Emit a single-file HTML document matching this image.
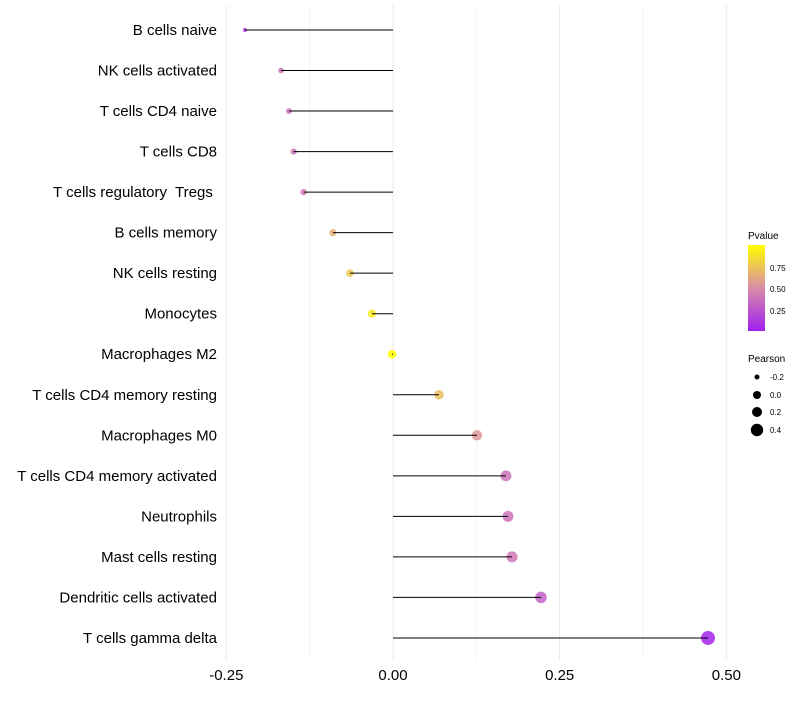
<!DOCTYPE html>
<html><head><meta charset="utf-8"><style>
body{margin:0;background:#fff;font-family:"Liberation Sans",sans-serif}
</style></head><body>
<svg id="chart" width="800" height="700" xmlns="http://www.w3.org/2000/svg">
<defs><linearGradient id="pg" x1="0" y1="1" x2="0" y2="0">
<stop offset="0" stop-color="#A020F0"/><stop offset="0.5" stop-color="#D98CA8"/><stop offset="1" stop-color="#FFFF00"/></linearGradient></defs>
<g id="grid"></g>
<g id="marks"></g>
<g id="ylabels"></g>
<g id="xlabels"></g>
<g>
<text x="748" y="239" font-size="10">Pvalue</text>
<rect x="748" y="245" width="17" height="86" fill="url(#pg)"/>
<text x="770" y="271" font-size="8">0.75</text>
<text x="770" y="292" font-size="8">0.50</text>
<text x="770" y="314" font-size="8">0.25</text>
</g>
<g>
<text x="748" y="362" font-size="10">Pearson</text>
<circle cx="757" cy="377" r="2.5"/><text x="770" y="380" font-size="8">-0.2</text>
<circle cx="757" cy="395" r="4"/><text x="770" y="398" font-size="8">0.0</text>
<circle cx="757" cy="412" r="5"/><text x="770" y="415" font-size="8">0.2</text>
<circle cx="757" cy="430" r="6.2"/><text x="770" y="433" font-size="8">0.4</text>
</g>
</svg>
<script>
const categories=["B cells naive","NK cells activated","T cells CD4 naive","T cells CD8","T cells regulatory\u00a0 Tregs\u00a0","B cells memory","NK cells resting","Monocytes","Macrophages M2","T cells CD4 memory resting","Macrophages M0","T cells CD4 memory activated","Neutrophils","Mast cells resting","Dendritic cells activated","T cells gamma delta"];
const pearson=[-0.222,-0.168,-0.156,-0.149,-0.134,-0.090,-0.0645,-0.0315,-0.0015,0.069,0.126,0.1695,0.1725,0.1785,0.222,0.4725];
const pvalues=[0.15,0.4,0.4,0.4,0.42,0.65,0.75,0.9,1.0,0.72,0.55,0.38,0.38,0.4,0.3,0.02];
const xTicks=[-0.25,0,0.25,0.5];
const xTickLabels=["-0.25","0.00","0.25","0.50"];
const NS="http://www.w3.org/2000/svg";
const xs=v=>393+v*666.7;
const ys=i=>30+i*40.53;
function col(p){const a=[160,32,240],b=[217,140,168],c=[255,255,0];let s,e,t;if(p<0.5){s=a;e=b;t=p/0.5}else{s=b;e=c;t=(p-0.5)/0.5}return `rgb(${s.map((v,k)=>Math.round(v+(e[k]-v)*t)).join(',')})`}
function mk(tag,attrs,parent){const el=document.createElementNS(NS,tag);for(const k in attrs)el.setAttribute(k,attrs[k]);document.getElementById(parent).appendChild(el);return el}
for(let v=-0.25;v<=0.5001;v+=0.125){const g=mk('line',{x1:xs(v),x2:xs(v),y1:5,y2:660,stroke:v%0.25===0?'#ebebeb':'#f3f3f3','stroke-width':1},'grid');

}
xTicks.forEach((v,i)=>{const t=mk('text',{x:xs(v),y:680,'font-size':15,'text-anchor':'middle'},'xlabels');t.textContent=xTickLabels[i];

});
categories.forEach((c,i)=>{const y=ys(i);
const t=mk('text',{x:217,y:y+5,'font-size':15,'text-anchor':'end'},'ylabels');t.textContent=c;


const r=Math.sqrt(Math.max(3,18.9+63.7*pearson[i]));
const d=mk('circle',{cx:xs(pearson[i]),cy:y,r:r,fill:col(pvalues[i]),'fill-opacity':0.85},'marks');


const l=mk('line',{x1:xs(0),x2:xs(pearson[i]),y1:y,y2:y,stroke:'#000','stroke-width':1},'marks');

});
</script>
</body></html>
